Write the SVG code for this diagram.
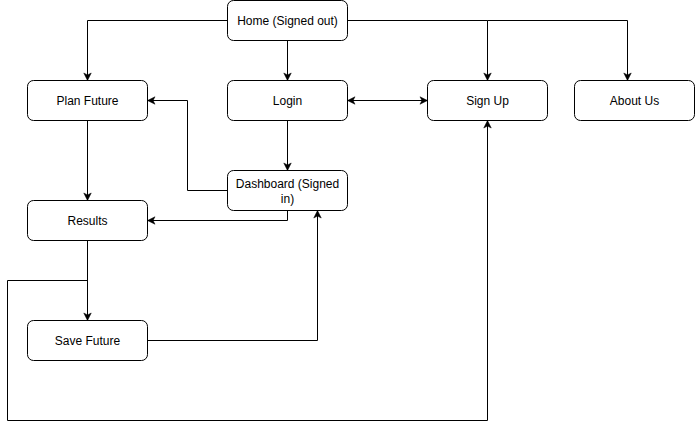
<svg xmlns="http://www.w3.org/2000/svg" width="695" height="432" viewBox="0 0 695 432">
<style>
.box{fill:#fff;stroke:#000;stroke-width:1}
.lbl{font-family:"Liberation Sans",Arial,sans-serif;font-size:12px;fill:#000;text-anchor:middle}
.edge{fill:none;stroke:#000;stroke-width:1}
</style>
<defs>
<marker id="arr" viewBox="-9 -5 10 10" refX="0" refY="0" markerWidth="10" markerHeight="10" markerUnits="userSpaceOnUse" orient="auto-start-reverse">
<path d="M0,0 L-7.5,-3.75 L-5.6,0 L-7.5,3.75 Z" fill="#000" stroke="#000" stroke-width="0.5"/>
</marker>
</defs>
<rect width="695" height="432" fill="#fff"/>
<g transform="translate(0.5,0.5)">
<g id="edges">
<path class="edge" d="M227,20 H87 V80" marker-end="url(#arr)"/>
<path class="edge" d="M287,40 V80" marker-end="url(#arr)"/>
<path class="edge" d="M347,20 H487 V80" marker-end="url(#arr)"/>
<path class="edge" d="M487,20 H627 V80" marker-end="url(#arr)"/>
<path class="edge" d="M347,100 H427" marker-start="url(#arr)" marker-end="url(#arr)"/>
<path class="edge" d="M287,120 V170" marker-end="url(#arr)"/>
<path class="edge" d="M227,190 H187 V100 H147" marker-end="url(#arr)"/>
<path class="edge" d="M287,210 V220 H147" marker-end="url(#arr)"/>
<path class="edge" d="M87,120 V200" marker-end="url(#arr)"/>
<path class="edge" d="M87,240 V320" marker-end="url(#arr)"/>
<path class="edge" d="M87,280 H7 V420 H487 V120" marker-end="url(#arr)"/>
<path class="edge" d="M147,340 H317 V210" marker-end="url(#arr)"/>
</g>
<g id="home"><rect class="box" x="227" y="0" width="120" height="40" rx="6"/><text class="lbl" x="287" y="24">Home (Signed out)</text></g>
<g id="plan"><rect class="box" x="27" y="80" width="120" height="40" rx="6"/><text class="lbl" x="87" y="104">Plan Future</text></g>
<g id="login"><rect class="box" x="227" y="80" width="120" height="40" rx="6"/><text class="lbl" x="287" y="104">Login</text></g>
<g id="signup"><rect class="box" x="427" y="80" width="120" height="40" rx="6"/><text class="lbl" x="487" y="104">Sign Up</text></g>
<g id="about"><rect class="box" x="574" y="80" width="120" height="40" rx="6"/><text class="lbl" x="634" y="104">About Us</text></g>
<g id="dashboard"><rect class="box" x="227" y="170" width="120" height="40" rx="6"/><text class="lbl" x="287" y="187.5">Dashboard (Signed</text><text class="lbl" x="287" y="202.5">in)</text></g>
<g id="results"><rect class="box" x="27" y="200" width="120" height="40" rx="6"/><text class="lbl" x="87" y="224">Results</text></g>
<g id="save"><rect class="box" x="27" y="320" width="120" height="40" rx="6"/><text class="lbl" x="87" y="344">Save Future</text></g>
</g>
</svg>
